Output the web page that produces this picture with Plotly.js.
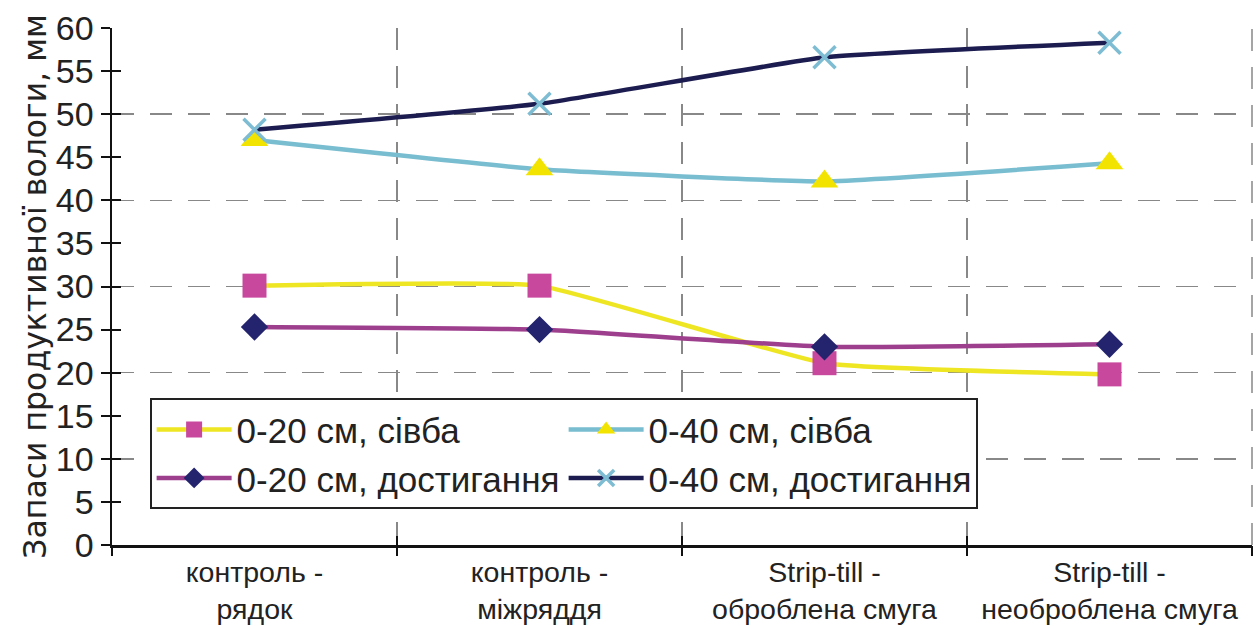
<!DOCTYPE html>
<html>
<head>
<meta charset="utf-8">
<script src="https://cdn.plot.ly/plotly-3.0.1.min.js"></script>
<style>html,body{margin:0;padding:0;background:#fff;}#chart{width:1260px;height:626px;}</style>
</head>
<body>
<div id="chart"></div>
<script>
const categories = ["контроль -<br>рядок", "контроль -<br>міжряддя", "Strip-till -<br>оброблена смуга", "Strip-till -<br>необроблена смуга"];
const seriesNames = ["0-20 см, сівба", "0-40 см, сівба", "0-20 см, достигання", "0-40 см, достигання"];
const sivba20 = [30.1, 30.1, 21.1, 19.8];
const sivba40 = [47.0, 43.6, 42.2, 44.3];
const dost20 = [25.3, 25.0, 23.0, 23.3];
const dost40 = [48.2, 51.2, 56.6, 58.3];
const yTickVals = [0, 5, 10, 15, 20, 25, 30, 35, 40, 45, 50, 55, 60];

const FONT = "Liberation Sans, Arial, sans-serif";
const GRID_DASH = "22px,16px";

function tr(y, name, lineColor, mSymbol, mColor, mSize, mLine) {
  return {
    x: categories, y: y, name: name, type: "scatter", mode: "lines+markers",
    line: {color: lineColor, width: 4.5, shape: "spline", smoothing: 0.35},
    marker: {symbol: mSymbol, color: mColor, size: mSize, line: mLine || {width: 0}},
    xaxis: "x", yaxis: "y"
  };
}

const traces = [
  tr(sivba20, seriesNames[0], "#EEE622", "square", "#C8489E", 24),
  tr(sivba40, seriesNames[1], "#78BDD0", "triangle-up", "#F2E400", 24),
  tr(dost20, seriesNames[2], "#9E3F8E", "diamond", "#23236E", 21),
  tr(dost40, seriesNames[3], "#1C1C50", "x-thin", "#7DBCD2", 22, {color: "#7DBCD2", width: 3.5})
];

traces.push({x: categories, y: dost40, xaxis: "x2", yaxis: "y2", mode: "markers", marker: {opacity: 0}, showlegend: false, hoverinfo: "skip"});
traces.push({x: categories, y: dost40, xaxis: "x", yaxis: "y3", mode: "markers", marker: {opacity: 0}, showlegend: false, hoverinfo: "skip"});

const layout = {
  width: 1260, height: 626,
  margin: {l: 112, r: 8, t: 28, b: 81},
  paper_bgcolor: "#fff", plot_bgcolor: "#fff",
  font: {family: FONT, color: "#222", size: 30},
  showlegend: true,
  legend: {
    orientation: "h", x: 0.033, xanchor: "left", y: 0.284, yanchor: "top",
    bgcolor: "#fff", bordercolor: "#222", borderwidth: 2,
    font: {family: FONT, size: 35, color: "#222"},
    entrywidth: 322, traceorder: "normal", itemwidth: 75
  },
  shapes: [
    {type: "line", xref: "paper", yref: "paper", x0: 1, x1: 1, y0: 0, y1: 1,
     line: {color: "#888", width: 1.5, dash: GRID_DASH}, layer: "below"}
  ],
  xaxis: {
    type: "category", tickson: "boundaries", range: [-0.5, 3.5], tickangle: 0,
    showline: true, linecolor: "#111", linewidth: 2.5,
    ticks: "inside", ticklen: 9, tickwidth: 2, tickcolor: "#111",
    showgrid: true, gridcolor: "#888", griddash: GRID_DASH, gridwidth: 1.5,
    tickfont: {family: FONT, size: 28.5, color: "#222"}, ticklabelstandoff: 0,
    zeroline: false, fixedrange: true
  },
  xaxis2: {
    type: "category", overlaying: "x", tickson: "boundaries", range: [-0.5, 3.5],
    showline: false, ticks: "outside", ticklen: 10, tickwidth: 2, tickcolor: "#111",
    showgrid: false, showticklabels: false, zeroline: false, anchor: "y"
  },
  yaxis: {
    range: [0, 60], tickvals: yTickVals,
    showline: true, linecolor: "#111", linewidth: 2.5,
    ticks: "outside", ticklen: 9, tickwidth: 2, tickcolor: "#111",
    showgrid: false, zeroline: false,
    tickfont: {family: FONT, size: 34, color: "#222"},
    title: {text: "Запаси продуктивної вологи, мм", font: {family: "DejaVu Sans, sans-serif", size: 31.5, color: "#222"}, standoff: 0}
  },
  yaxis2: {
    range: [0, 60], overlaying: "y", tickvals: yTickVals, anchor: "x",
    ticks: "inside", ticklen: 9, tickwidth: 2, tickcolor: "#111",
    showticklabels: false, showgrid: false, zeroline: false, showline: false
  },
  yaxis3: {
    range: [0, 60], overlaying: "y", dtick: 10, anchor: "x",
    showgrid: true, gridcolor: "#888", griddash: GRID_DASH, gridwidth: 1.5,
    ticks: "", showticklabels: false, zeroline: false, showline: false
  }
};

Plotly.newPlot("chart", traces, layout, {displayModeBar: false, staticPlot: true});
</script>
</body>
</html>
